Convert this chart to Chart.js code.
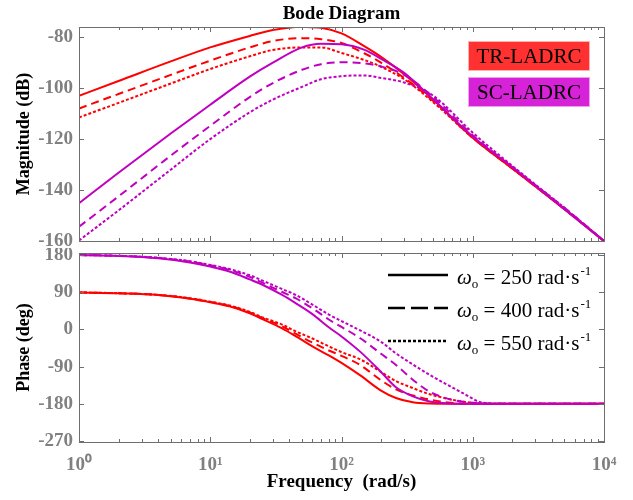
<!DOCTYPE html>
<html>
<head>
<meta charset="utf-8">
<script src="https://cdn.jsdelivr.net/npm/chart.js@4.4.0/dist/chart.umd.min.js"></script>
<style>
    body { margin: 0; background: #fff; }
    #wrap { position: relative; width: 633px; height: 500px; }
    .panel { position: absolute; left: 0; width: 633px; }
    #magBox { top: 0; height: 248px; }
    #phaseBox { top: 248px; height: 252px; }
</style>
</head>
<body>
<div id="wrap">
    <div class="panel" id="magBox"><canvas id="magChart"></canvas></div>
    <div class="panel" id="phaseBox"><canvas id="phaseChart"></canvas></div>
</div>
<script>
const magFreq = [1, 2, 5, 10, 20, 30, 50, 70, 100, 150, 200, 300, 500, 1000, 2000, 5000, 10000];
const phaseFreq = [1, 2, 4, 7, 10, 14, 20, 25, 35, 45, 60, 80, 100, 140, 200, 260, 350, 470, 650, 850, 1200, 2000, 10000];

const controllers = ['TR-LADRC', 'SC-LADRC'];
const observerBandwidths = [250, 400, 550];

// Magnitude (dB)
const trMag250 = [-103, -97.2, -89.5, -84, -79.5, -77.2, -75.9, -76.3, -78.5, -83.6, -87.7, -94.5, -104.5, -119.5, -131.5, -147.5, -160];
const trMag400 = [-108, -102.3, -94.8, -89.2, -84, -81.5, -80.4, -80.8, -82.3, -86.4, -90, -96, -105, -119.5, -131.5, -147.5, -160];
const trMag550 = [-111.5, -105.8, -98.2, -92.5, -87.5, -85, -84, -84, -86.2, -89, -91.6, -96.5, -105.5, -119.5, -131.5, -147.5, -160];
const scMag250 = [-145.2, -133.2, -117.8, -106.5, -95.5, -90, -84, -82.6, -82.8, -85, -88.5, -94, -104.5, -119, -131, -147.5, -160];
const scMag400 = [-154.4, -142.5, -126.5, -114.8, -103.5, -98, -92.8, -90.6, -89.8, -90.3, -91.5, -94.8, -103.5, -118.5, -131, -147, -160];
const scMag550 = [-159.8, -148, -132, -120, -109.5, -104.5, -99.5, -96.5, -95.3, -95, -96, -97.8, -103, -117.5, -130.5, -147, -160];

// Phase (deg)
const trPhase250 = [89.5, 87.3, 83, 74, 65.5, 56, 39, 25, 3, -17, -41, -63, -81, -112, -148, -166, -176.5, -179.5, -180, -180, -180, -180, -180];
const trPhase400 = [89.5, 87.5, 83.5, 75, 66.5, 57, 41, 27, 8, -11, -32, -51, -64, -87, -123, -145, -160, -170, -177, -179.5, -180, -180, -180];
const trPhase550 = [89.5, 87.5, 83.5, 75.5, 67, 58, 42.5, 29, 12, -5, -22, -41, -55, -73, -103, -125, -142, -157, -168, -175, -179.5, -180, -180];
const scPhase250 = [180, 177.6, 172, 162, 152, 140, 121, 108, 84, 63, 37, 5, -17, -55, -103, -140, -162, -174.5, -179, -180, -180, -180, -180];
const scPhase400 = [180, 178, 173, 164, 155, 144, 127, 113, 91, 75, 51, 24, 6, -22, -59, -86, -122, -151, -168, -175, -179, -180, -180];
const scPhase550 = [180, 178, 173.5, 165, 156, 146, 131, 118, 98, 83, 60, 36, 20, -3, -30, -58, -85, -110, -135, -155, -177.5, -180, -180];

// Axis ticks
const freqTicks = [1, 10, 100, 1000, 10000];
const magTicks = [-160, -140, -120, -100, -80];
const phaseTicks = [-270, -180, -90, 0, 90, 180];

const RED = '#ff0000';
const PURPLE = '#c000c0';
const AXIS = '#6e6e6e';
const TICK_TEXT = '#808080';
const SERIF = '"Liberation Serif", "Times New Roman", serif';
const dashes = [[], [8, 5], [3, 2]];
const tagColors = ['#ff3131', '#d723d7'];
const tagBorders = ['#ffb0b0', '#f0a0f0'];
const sup = ['\u2070', '\u00b9', '\u00b2', '\u00b3', '\u2074'];

Chart.defaults.font.family = SERIF;
Chart.defaults.animation = false;

function makeDatasets(freq, tr, sc) {
    const sets = [];
    // SC drawn on top of TR
    sc.forEach((vals, i) => sets.push({ data: freq.map((f, k) => ({ x: f, y: vals[k] })), borderColor: PURPLE, borderDash: dashes[i] }));
    tr.forEach((vals, i) => sets.push({ data: freq.map((f, k) => ({ x: f, y: vals[k] })), borderColor: RED, borderDash: dashes[i] }));
    return sets.map(s => Object.assign(s, {
        borderWidth: 2,
        pointRadius: 0,
        fill: false,
        cubicInterpolationMode: 'monotone'
    }));
}

// Box round the plot with inward ticks, MATLAB style
const framePlugin = {
    id: 'frame',
    afterDatasetsDraw(chart) {
        const { ctx, chartArea: a, scales: { x, y } } = chart;
        ctx.save();
        ctx.strokeStyle = AXIS;
        ctx.lineWidth = 1;
        ctx.beginPath();
        for (let d = 0; d < 4; d++) {
            for (let m = 1; m < 10; m++) {
                const px = Math.round(x.getPixelForValue(m * Math.pow(10, d))) + 0.5;
                const len = m === 1 ? 5 : 3;
                ctx.moveTo(px, a.bottom); ctx.lineTo(px, a.bottom - len);
                ctx.moveTo(px, a.top); ctx.lineTo(px, a.top + len);
            }
        }
        y.ticks.forEach(t => {
            const py = Math.round(y.getPixelForValue(t.value)) + 0.5;
            ctx.moveTo(a.left, py); ctx.lineTo(a.left + 5, py);
            ctx.moveTo(a.right, py); ctx.lineTo(a.right - 5, py);
        });
        ctx.stroke();
        ctx.strokeRect(Math.round(a.left) + 0.5, Math.round(a.top) + 0.5, Math.round(a.width), Math.round(a.height));
        ctx.restore();
    }
};

// Title centred over the plot box, plus coloured name boxes
const tagPlugin = {
    id: 'tags',
    afterDraw(chart) {
        const { ctx, chartArea: a } = chart;
        ctx.save();
        ctx.fillStyle = '#000';
        ctx.font = 'bold 19px ' + SERIF;
        ctx.textAlign = 'center';
        ctx.textBaseline = 'middle';
        ctx.fillText('Bode Diagram', (a.left + a.right) / 2, 14);

        ctx.textBaseline = 'alphabetic';
        ctx.font = '21px ' + SERIF;
        controllers.forEach((name, i) => {
            const left = 468, top = 41 + i * 36, w = 122, h = 30;
            ctx.fillStyle = tagColors[i];
            ctx.fillRect(left, top, w, h);
            ctx.strokeStyle = tagBorders[i];
            ctx.lineWidth = 1;
            ctx.strokeRect(left + 0.5, top + 0.5, w - 1, h - 1);
            ctx.fillStyle = '#000';
            ctx.fillText(name, left + w / 2, top + 22);
        });
        ctx.restore();
    }
};

// Line style legend in the phase plot
const omegaPlugin = {
    id: 'omegaLegend',
    afterDraw(chart) {
        const ctx = chart.ctx;
        const top = chart.chartArea.top;
        ctx.save();
        observerBandwidths.forEach((w, i) => {
            const ly = top + 22 + i * 33;
            ctx.strokeStyle = '#000';
            ctx.lineWidth = 2.5;
            ctx.setLineDash(i === 0 ? [] : i === 1 ? [17, 6] : [3, 2]);
            ctx.beginPath();
            ctx.moveTo(388, ly);
            ctx.lineTo(448, ly);
            ctx.stroke();
            ctx.setLineDash([]);

            ctx.fillStyle = '#000';
            ctx.textAlign = 'left';
            const base = ly + 9;
            let tx = 457;
            ctx.font = 'italic 21px ' + SERIF;
            ctx.fillText('\u03c9', tx, base);
            tx += ctx.measureText('\u03c9').width;
            ctx.font = '13px ' + SERIF;
            ctx.fillText('o', tx, base + 4);
            tx += ctx.measureText('o').width;
            ctx.font = '21px ' + SERIF;
            const main = ' = ' + w + ' rad\u00b7s';
            ctx.fillText(main, tx, base);
            tx += ctx.measureText(main).width + 1;
            ctx.font = '13px ' + SERIF;
            ctx.fillText('-1', tx, base - 9);
        });
        ctx.restore();
    }
};

function fixWidth(scale) {
    scale.width = 79;
    scale.paddingTop = 0;
    scale.paddingBottom = 0;
}

function yAxis(title, min, max, ticks) {
    return {
        type: 'linear',
        min: min,
        max: max,
        afterBuildTicks: s => { s.ticks = ticks.map(v => ({ value: v })); },
        afterFit: fixWidth,
        grid: { display: false, drawTicks: false },
        border: { display: false },
        ticks: {
            color: TICK_TEXT,
            padding: 6,
            font: { size: 19, weight: 'bold' }
        },
        title: {
            display: true,
            text: title,
            color: '#000',
            font: { size: 18, weight: 'bold' },
            padding: { top: 14, bottom: 0 }
        }
    };
}

const magChart = new Chart(document.getElementById('magChart'), {
    type: 'line',
    data: { datasets: makeDatasets(magFreq, [trMag250, trMag400, trMag550], [scMag250, scMag400, scMag550]) },
    options: {
        responsive: true,
        maintainAspectRatio: false,
        layout: { padding: { top: 27, right: 29, bottom: 7, left: 0 } },
        plugins: {
            legend: { display: false },
            tooltip: { enabled: false }
        },
        scales: {
            x: {
                type: 'logarithmic',
                min: 1,
                max: 10000,
                display: false,
                afterFit: s => { s.paddingLeft = 0; s.paddingRight = 0; }
            },
            y: yAxis('Magnitude (dB)', -160, -76, magTicks)
        }
    },
    plugins: [framePlugin, tagPlugin]
});

const phaseChart = new Chart(document.getElementById('phaseChart'), {
    type: 'line',
    data: { datasets: makeDatasets(phaseFreq, [trPhase250, trPhase400, trPhase550], [scPhase250, scPhase400, scPhase550]) },
    options: {
        responsive: true,
        maintainAspectRatio: false,
        layout: { padding: { top: 5, right: 29, bottom: 0, left: 0 } },
        plugins: {
            legend: { display: false },
            tooltip: { enabled: false }
        },
        scales: {
            x: {
                type: 'logarithmic',
                min: 1,
                max: 10000,
                afterBuildTicks: s => { s.ticks = freqTicks.map(v => ({ value: v })); },
                afterFit: s => { s.height = 58; s.paddingLeft = 0; s.paddingRight = 0; },
                grid: { display: false, drawTicks: false },
                border: { display: false },
                ticks: {
                    color: TICK_TEXT,
                    padding: 12,
                    autoSkip: false,
                    maxRotation: 0,
                    font: { size: 19, weight: 'bold' },
                    callback: v => '10' + sup[Math.round(Math.log10(v))]
                },
                title: {
                    display: true,
                    text: 'Frequency  (rad/s)',
                    color: '#000',
                    font: { size: 19, weight: 'bold' },
                    padding: { top: 0, bottom: 7 }
                }
            },
            y: yAxis('Phase (deg)', -272.4, 184.8, phaseTicks)
        }
    },
    plugins: [framePlugin, omegaPlugin]
});
</script>
</body>
</html>
